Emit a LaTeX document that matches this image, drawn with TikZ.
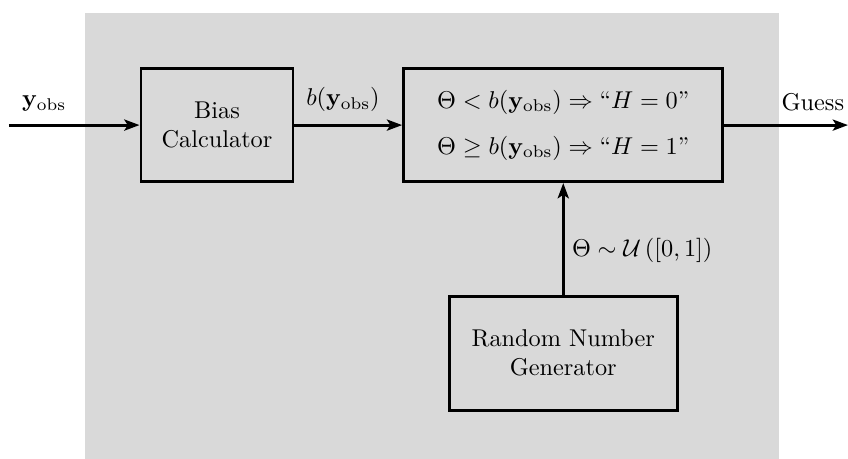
\documentclass[tikz,border=0pt]{standalone}
\usepackage{amsmath,amssymb}
\usetikzlibrary{arrows.meta}
\definecolor{bgpanel}{HTML}{D9D9D9}
\newcommand{\yobs}{\mathbf{y}_{\mathrm{obs}}}
\tikzset{
  bx/.style={draw=black, line width=1.2pt, align=center, inner sep=2pt},
  arr/.style={-{Stealth[length=2.2mm, width=1.6mm, inset=0.5mm]}, line width=1.2pt},
  lbl/.style={inner sep=3pt},
}

\begin{document}
\begin{tikzpicture}
    \useasboundingbox (0,0) rectangle (12.27,6.64);
    \fill[bgpanel] (1.23,0) rectangle (11.27,6.45);
    \node[bx, minimum width=2.2cm, minimum height=1.635cm] (bias) at (3.14,4.83) {Bias\\Calculator};
    \node[bx, minimum width=4.62cm, minimum height=1.635cm] (dec) at (8.15,4.83)
      {$\Theta < b(\yobs) \Rightarrow \text{``}H=0\text{''}$\\[7pt]$\Theta \geq b(\yobs) \Rightarrow \text{``}H=1\text{''}$};
    \node[bx, minimum width=3.3cm, minimum height=1.65cm] (rng) at (8.15,1.53) {Random Number\\Generator};
    \coordinate (in) at (0.13,4.83);
    \coordinate (out) at (12.27,4.83);
    \draw[arr] (in) -- node[lbl, pos=0.27, above=2pt] {$\yobs$} (bias);
    \draw[arr] (bias) -- node[lbl, above=2pt, pos=0.45] {$b(\yobs)$} (dec);
    \draw[arr] (dec) -- (out) node[lbl, anchor=south east, yshift=2pt, xshift=2pt] {Guess};
    \draw[arr] (rng) -- node[lbl, right, pos=0.4] {$\Theta \sim \mathcal{U}\left([0,1]\right)$} (dec);
\end{tikzpicture}
\end{document}
